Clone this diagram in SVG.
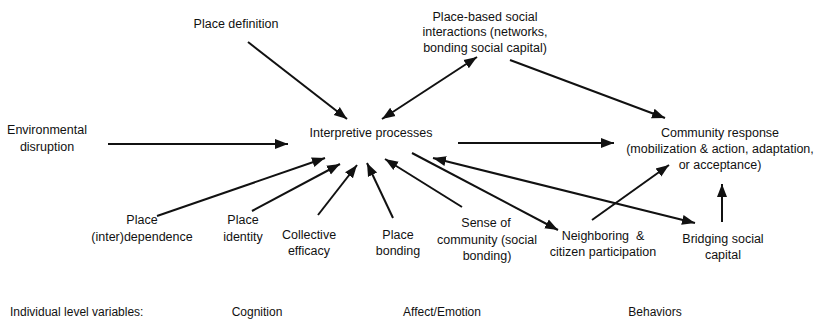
<svg xmlns="http://www.w3.org/2000/svg" width="818" height="321" viewBox="0 0 818 321">
<style>
text{font-family:"Liberation Sans",Arial,sans-serif;font-size:12.5px;fill:#111;text-anchor:middle}
.l{text-anchor:start}
.c line{stroke:#111;stroke-width:2;marker-end:url(#ah)}
.c line.bi{marker-start:url(#ah)}
</style>
<defs>
<marker id="ah" markerUnits="userSpaceOnUse" markerWidth="14" markerHeight="12" refX="13" refY="5" orient="auto-start-reverse" viewBox="0 0 14 10">
<path d="M0,0 L13,5 L0,10 z" fill="#111"/>
</marker>
</defs>
<rect width="818" height="321" fill="#fff"/>
<g class="c" id="connectors">
<line x1="248" y1="42" x2="347" y2="119"/>
<line class="bi" x1="382" y1="119" x2="477" y2="57"/>
<line x1="510" y1="60" x2="665" y2="118"/>
<line x1="108" y1="144" x2="288" y2="144"/>
<line x1="458" y1="143" x2="614" y2="143"/>
<line x1="157" y1="216" x2="325" y2="158"/>
<line x1="252" y1="211" x2="340" y2="164"/>
<line x1="318" y1="215" x2="357" y2="165"/>
<line x1="393" y1="218" x2="367" y2="163"/>
<line x1="462" y1="207" x2="385" y2="159"/>
<line x1="412" y1="153" x2="558" y2="230"/>
<line class="bi" x1="433" y1="158" x2="695" y2="223"/>
<line x1="592" y1="220" x2="669" y2="165"/>
<line x1="722" y1="222" x2="722" y2="184"/>
</g>
<g id="place-definition"><text x="236" y="28">Place definition</text></g>
<g id="place-based"><text x="485" y="21">Place-based social</text><text x="485" y="36">interactions (networks,</text><text x="485" y="52">bonding social capital)</text></g>
<g id="environmental"><text x="47" y="134">Environmental</text><text x="47" y="151">disruption</text></g>
<g id="interpretive"><text x="371" y="137">Interpretive processes</text></g>
<g id="community-response"><text x="720" y="137">Community response</text><text x="720" y="153">(mobilization &amp; action, adaptation,</text><text x="720" y="169">or acceptance)</text></g>
<g id="place-interdependence"><text x="142" y="224">Place</text><text x="142" y="241">(inter)dependence</text></g>
<g id="place-identity"><text x="243" y="224">Place</text><text x="243" y="241">identity</text></g>
<g id="collective-efficacy"><text x="309" y="239">Collective</text><text x="309" y="255">efficacy</text></g>
<g id="place-bonding"><text x="398" y="239">Place</text><text x="398" y="255">bonding</text></g>
<g id="sense-of-community"><text x="486" y="227">Sense of</text><text x="487" y="244">community (social</text><text x="487" y="260">bonding)</text></g>
<g id="neighboring"><text x="603" y="240" xml:space="preserve">Neighboring  &amp;</text><text x="603" y="256">citizen participation</text></g>
<g id="bridging"><text x="723" y="243">Bridging social</text><text x="723" y="259">capital</text></g>
<g id="levels">
<text class="l" x="10" y="316" style="font-size:12px">Individual level variables:</text>
<text x="257" y="316" style="font-size:12px">Cognition</text>
<text x="442" y="316" style="font-size:12px">Affect/Emotion</text>
<text x="655" y="316" style="font-size:12px">Behaviors</text>
</g>
</svg>
